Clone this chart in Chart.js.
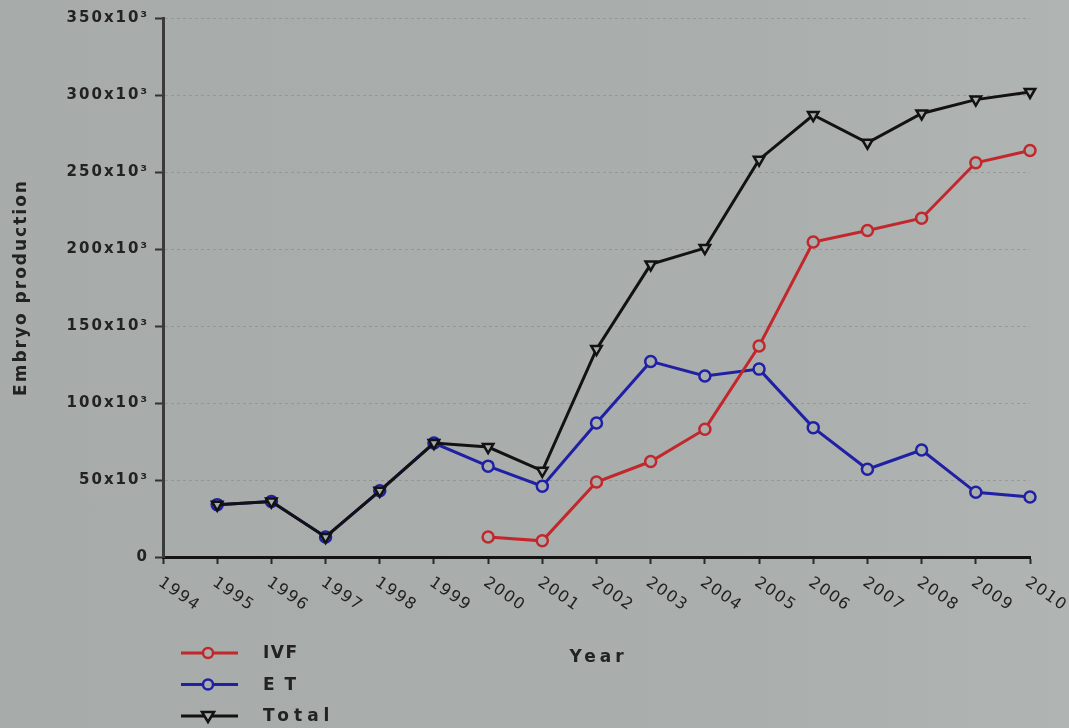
<!DOCTYPE html>
<html>
<head>
<meta charset="utf-8">
<script src="https://cdn.jsdelivr.net/npm/chart.js@4.4.1/dist/chart.umd.min.js"></script>
<style>
  html, body { margin: 0; padding: 0; background: #a8acab; }
  #wrap { width: 1069px; height: 728px; background: linear-gradient(90deg, #a7abaa 0%, #aaaead 70%, #b0b4b3 100%); }
</style>
</head>
<body>
<div id="wrap"><canvas id="embryoChart" width="1069" height="728"></canvas></div>
<script>
// years on the x axis
const years = ['1994', '1995', '1996', '1997', '1998', '1999', '2000', '2001', '2002',
               '2003', '2004', '2005', '2006', '2007', '2008', '2009', '2010'];

// embryo production
const ivf = [null, null, null, null, null, null, 13000, 10500, 48700, 62000, 83000,
             137000, 204500, 212000, 220000, 256000, 264000];
const et = [null, 34000, 36000, 13000, 43000, 74000, 59000, 46000, 87000, 127000, 117500,
            122000, 84000, 57000, 69500, 42000, 39000];
const total = [null, 34000, 36000, 13000, 43000, 74000, 71400, 56000, 135000, 190000, 200600,
               258000, 287000, 269000, 288000, 297000, 302000];

const legendNames = ['IVF', 'E T', 'Total'];
const legendSpacing = ['1.5px', '2px', '5px'];

const textColor = '#222';
const fontFam = '"DejaVu Sans", Verdana, sans-serif';

function drawMarker(ctx, style, x, y, color) {
    ctx.save();
    ctx.strokeStyle = color;
    ctx.fillStyle = '#a9adac';
    ctx.lineWidth = 2.5;
    ctx.beginPath();
    if (style === 'circle') {
        ctx.arc(x, y, 5, 0, Math.PI * 2);
    } else {
        ctx.moveTo(x - 6, y - 4);
        ctx.lineTo(x + 6, y - 4);
        ctx.lineTo(x, y + 6);
        ctx.closePath();
    }
    ctx.fill();
    ctx.stroke();
    ctx.restore();
}

const extrasPlugin = {
    id: 'extras',
    beforeDraw(chart) {
        chart.ctx.letterSpacing = '2px';
    },
    afterDraw(chart) {
        const ctx = chart.ctx;
        const xs = chart.scales.x;
        const bottom = chart.chartArea.bottom;

        // slanted year labels
        ctx.save();
        ctx.fillStyle = textColor;
        ctx.font = '16px ' + fontFam;
        ctx.letterSpacing = '1.5px';
        ctx.textAlign = 'left';
        ctx.textBaseline = 'middle';
        years.forEach((lab, i) => {
            const x = xs.getPixelForTick(i);
            ctx.save();
            ctx.translate(x - 3, bottom + 24);
            ctx.rotate(35 * Math.PI / 180);
            ctx.fillText(lab, 0, 0);
            ctx.restore();
        });

        // axis title
        ctx.font = 'bold 17px ' + fontFam;
        ctx.letterSpacing = '4px';
        ctx.textAlign = 'center';
        ctx.fillText('Year', (chart.chartArea.left + chart.chartArea.right) / 2 + 2, 658);

        // legend
        ctx.textAlign = 'left';
        chart.data.datasets.slice().sort((a, b) => a.legendIndex - b.legendIndex).forEach((ds, k) => {
            const y = 653 + k * 31.5;
            ctx.save();
            ctx.strokeStyle = ds.borderColor;
            ctx.lineWidth = 3;
            ctx.beginPath();
            ctx.moveTo(181, y);
            ctx.lineTo(238, y);
            ctx.stroke();
            ctx.restore();
            drawMarker(ctx, ds.pointStyle === 'circle' ? 'circle' : 'tri', 208, y, ds.borderColor);
            ctx.font = 'bold 17px ' + fontFam;
            ctx.letterSpacing = legendSpacing[ds.legendIndex];
            ctx.fillStyle = textColor;
            ctx.fillText(legendNames[ds.legendIndex], 263, y + 1);
        });
        ctx.restore();
    }
};

const ctx = document.getElementById('embryoChart').getContext('2d');
new Chart(ctx, {
    type: 'line',
    data: {
        labels: years,
        datasets: [
            {
                label: 'Total',
                legendIndex: 2,
                data: total,
                borderColor: '#121212',
                backgroundColor: '#a9adac',
                borderWidth: 3,
                pointStyle: 'triangle',
                rotation: 180,
                pointRadius: 6,
                pointBorderWidth: 2.5,
                tension: 0,
                spanGaps: false
            },
            {
                label: 'IVF',
                legendIndex: 0,
                data: ivf,
                borderColor: '#c2272c',
                backgroundColor: '#a9adac',
                borderWidth: 3,
                pointStyle: 'circle',
                pointRadius: 5.5,
                pointBorderWidth: 2.5,
                tension: 0
            },
            {
                label: 'ET',
                legendIndex: 1,
                data: et,
                borderColor: '#2020a4',
                backgroundColor: '#a9adac',
                borderWidth: 3,
                pointStyle: 'circle',
                pointRadius: 5.5,
                pointBorderWidth: 2.5,
                tension: 0
            }
        ]
    },
    options: {
        responsive: false,
        animation: false,
        layout: { padding: { top: 18, right: 39, left: 0, bottom: 0 } },
        plugins: {
            legend: { display: false },
            tooltip: { enabled: false }
        },
        scales: {
            x: {
                type: 'category',
                offset: false,
                afterFit(scale) { scale.height = 171; },
                grid: {
                    drawOnChartArea: false,
                    drawTicks: true,
                    tickLength: 7,
                    tickColor: '#2a2a2a',
                    tickWidth: 2
                },
                border: { display: true, color: '#141414', width: 3 },
                ticks: { display: false, autoSkip: false }
            },
            y: {
                min: 0,
                max: 350000,
                afterFit(scale) { scale.width = 163; },
                grid: {
                    color: 'rgba(125,130,129,0.5)',
                    lineWidth: 1,
                    tickLength: 8,
                    tickColor: '#333',
                    tickWidth: 2,
                    tickBorderDash: []
                },
                border: { display: true, color: '#3a3a3a', width: 3, dash: [3, 3] },
                ticks: {
                    stepSize: 50000,
                    padding: 6,
                    color: textColor,
                    font: { family: fontFam, size: 15, weight: 'bold' },
                    callback: v => v === 0 ? '0' : (v / 1000) + 'x10³'
                },
                title: {
                    display: true,
                    text: 'Embryo production',
                    color: textColor,
                    font: { family: fontFam, size: 17, weight: 'bold' },
                    padding: { top: 11, bottom: 0 }
                }
            }
        }
    },
    plugins: [extrasPlugin]
});
</script>
</body>
</html>
